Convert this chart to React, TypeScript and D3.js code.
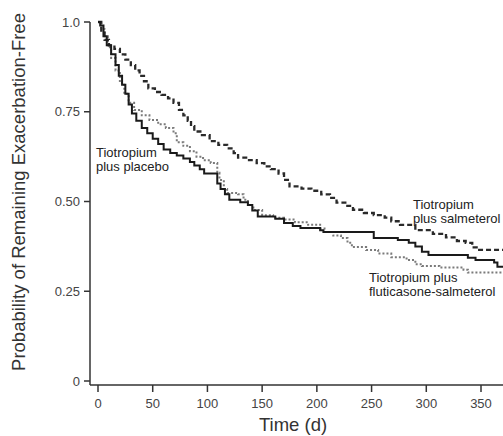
import React from "react";
import * as d3 from "d3";

const xTicks = [0, 50, 100, 150, 200, 250, 300, 350];
const yTicks = [0, 0.25, 0.5, 0.75, 1.0];
const yTickLabels = ["0", "0.25", "0.50", "0.75", "1.0"];

// Tiotropium plus placebo (solid)
const placeboT = [0, 2, 5, 8, 12, 16, 19, 22, 25, 28, 31, 35, 40, 45, 50, 55, 60, 66, 72, 78, 84, 88, 93, 97, 109, 112, 116, 120, 130, 137, 141, 146, 162, 170, 178, 185, 203, 206, 252, 274, 284, 290, 296, 302, 338, 345, 362, 365, 375];
const placeboP = [1.0, 0.99, 0.96, 0.935, 0.91, 0.88, 0.85, 0.825, 0.8, 0.77, 0.745, 0.725, 0.705, 0.69, 0.675, 0.66, 0.645, 0.635, 0.628, 0.62, 0.61, 0.6, 0.59, 0.578, 0.55, 0.535, 0.52, 0.505, 0.498, 0.49, 0.475, 0.458, 0.452, 0.44, 0.432, 0.426, 0.42, 0.415, 0.398, 0.393, 0.385, 0.375, 0.36, 0.351, 0.343, 0.337, 0.33, 0.318, 0.318];

// Tiotropium plus salmeterol (dashed)
const salT = [0, 3, 6, 10, 15, 20, 25, 30, 34, 38, 42, 46, 52, 58, 64, 69, 74, 78, 82, 85, 88, 95, 102, 110, 118, 124, 128, 138, 145, 152, 158, 165, 170, 175, 186, 195, 204, 212, 218, 226, 233, 243, 252, 262, 268, 276, 290, 306, 318, 328, 336, 342, 346, 375];
const salP = [1.0, 0.97, 0.95, 0.935, 0.925, 0.91, 0.895, 0.88, 0.865, 0.85, 0.835, 0.815, 0.805, 0.797, 0.787, 0.775, 0.755, 0.74, 0.725, 0.71, 0.695, 0.685, 0.668, 0.658, 0.648, 0.635, 0.622, 0.615, 0.607, 0.598, 0.59, 0.578, 0.56, 0.542, 0.536, 0.53, 0.52, 0.51, 0.497, 0.488, 0.477, 0.468, 0.462, 0.455, 0.445, 0.435, 0.42, 0.41, 0.4, 0.39, 0.385, 0.372, 0.365, 0.365];

// Tiotropium plus fluticasone-salmeterol (dotted)
const fluT = [0, 3, 6, 9, 12, 16, 20, 24, 28, 33, 40, 47, 55, 62, 69, 72, 78, 84, 90, 96, 103, 109, 111, 115, 118, 128, 133, 137, 142, 150, 160, 170, 180, 192, 203, 207, 215, 222, 228, 232, 245, 256, 268, 282, 290, 296, 312, 334, 338, 375];
const fluP = [1.0, 0.98, 0.96, 0.93, 0.9, 0.865, 0.83, 0.8, 0.775, 0.755, 0.74, 0.727, 0.715, 0.705, 0.69, 0.665, 0.655, 0.64, 0.625, 0.615, 0.607, 0.58, 0.56, 0.535, 0.524, 0.52, 0.505, 0.49, 0.476, 0.462, 0.455, 0.45, 0.442, 0.435, 0.425, 0.415, 0.405, 0.398, 0.385, 0.373, 0.365, 0.355, 0.345, 0.337, 0.325, 0.32, 0.316, 0.31, 0.302, 0.302];

const FONT = "'Liberation Sans', Arial, sans-serif";

export default function App() {
  const W = 503;
  const H = 436;
  const x = d3.scaleLinear().domain([0, 350]).range([98, 481]);
  const y = d3.scaleLinear().domain([0, 1]).range([381, 22]);
  const axisX = 90;
  const axisY = 385;

  const line = d3
    .line<[number, number]>()
    .x((d) => x(d[0]))
    .y((d) => y(d[1]))
    .curve(d3.curveStepAfter);

  const zip = (t: number[], p: number[]) => t.map((v, i) => [v, p[i]] as [number, number]);

  return (
    <svg
      width={W}
      height={H}
      style={{ position: "absolute", left: 0, top: 0, background: "#fff" }}
      fontFamily={FONT}
    >
      <rect x={0} y={0} width={W} height={H} fill="#fff" />
      {/* axes */}
      <line x1={axisX} y1={y(1)} x2={axisX} y2={axisY} stroke="#333" strokeWidth={1.5} />
      <line x1={axisX} y1={axisY} x2={W} y2={axisY} stroke="#333" strokeWidth={1.5} />
      {yTicks.map((t, i) => (
        <g key={"yt" + i}>
          <line x1={axisX - 6} x2={axisX} y1={y(t)} y2={y(t)} stroke="#333" strokeWidth={1.5} />
          <text x={80} y={y(t) + 4.5} textAnchor="end" fontSize={13} fill="#444">
            {yTickLabels[i]}
          </text>
        </g>
      ))}
      {xTicks.map((t) => (
        <g key={"xt" + t}>
          <line x1={x(t)} x2={x(t)} y1={axisY} y2={axisY + 7} stroke="#333" strokeWidth={1.5} />
          <text x={x(t)} y={408} textAnchor="middle" fontSize={13} fill="#444">
            {t}
          </text>
        </g>
      ))}
      <text x={293} y={431} textAnchor="middle" fontSize={18.5} fill="#333">
        Time (d)
      </text>
      <text
        transform={`translate(25,192) rotate(-90)`}
        textAnchor="middle"
        fontSize={18.5}
        fill="#333"
      >
        Probability of Remaining Exacerbation-Free
      </text>

      {/* curves */}
      <path d={line(zip(fluT, fluP)) || ""} fill="none" stroke="#7a7a7a" strokeWidth={2} strokeDasharray="2,2" />
      <path d={line(zip(salT, salP)) || ""} fill="none" stroke="#2a2a2a" strokeWidth={2.3} strokeDasharray="5,3" />
      <path d={line(zip(placeboT, placeboP)) || ""} fill="none" stroke="#1a1a1a" strokeWidth={2} />

      {/* labels */}
      <g fontSize={13} fill="#222">
        <text x={96} y={157}>Tiotropium</text>
        <text x={96} y={171}>plus placebo</text>
        <text x={413} y={209}>Tiotropium</text>
        <text x={413} y={223}>plus salmeterol</text>
        <text x={369} y={282}>Tiotropium plus</text>
        <text x={369} y={296}>fluticasone-salmeterol</text>
      </g>
    </svg>
  );
}
